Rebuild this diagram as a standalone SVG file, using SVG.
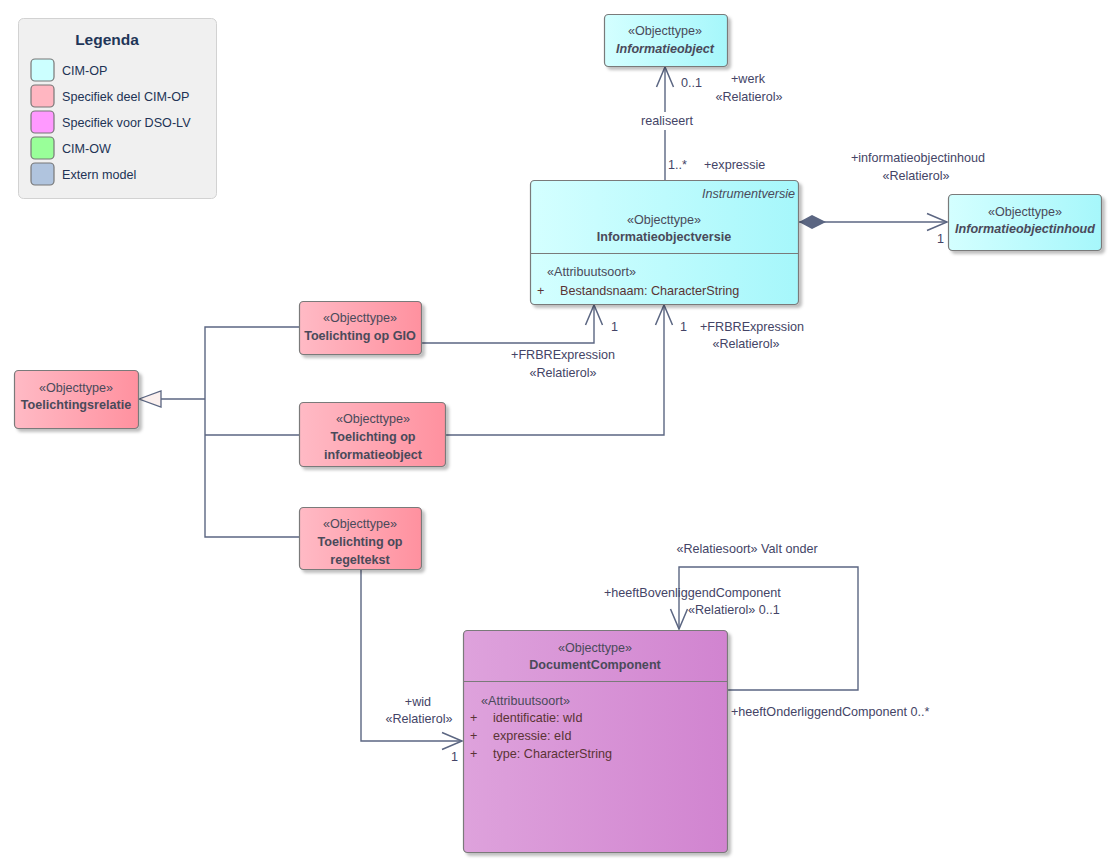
<svg xmlns="http://www.w3.org/2000/svg" width="1118" height="867" viewBox="0 0 1118 867">
<defs>
<linearGradient id="gCyan" x1="0" y1="0" x2="1" y2="0"><stop offset="0" stop-color="#d4ffff"/><stop offset="1" stop-color="#a6f7fb"/></linearGradient>
<linearGradient id="gPink" x1="0" y1="0" x2="1" y2="0"><stop offset="0" stop-color="#ffbac5"/><stop offset="1" stop-color="#ff919f"/></linearGradient>
<linearGradient id="gPurple" x1="0" y1="0" x2="1" y2="0"><stop offset="0" stop-color="#dea2dc"/><stop offset="1" stop-color="#d184d0"/></linearGradient>
<filter id="sh" x="-10%" y="-10%" width="130%" height="130%"><feDropShadow dx="3" dy="3" stdDeviation="1.5" flood-color="#000" flood-opacity="0.25"/></filter>
<marker id="open" markerUnits="userSpaceOnUse" markerWidth="24" markerHeight="20" refX="21" refY="10" orient="auto"><path d="M1 1.5 L21 10 L1 18.5" fill="none" stroke="#5b6682" stroke-width="1.5"/></marker>
<marker id="diamond" markerUnits="userSpaceOnUse" markerWidth="30" markerHeight="16" refX="1" refY="8" orient="auto"><path d="M1 8 L14 1 L28 8 L14 15 Z" fill="#5b6682"/></marker>
<marker id="gen" markerUnits="userSpaceOnUse" markerWidth="26" markerHeight="20" refX="1" refY="10" orient="auto"><path d="M1 10 L23 2 L23 18 Z" fill="#fbf0ee" stroke="#5b6682" stroke-width="1.3"/></marker>
</defs>
<style>
text{font-family:"Liberation Sans",Arial,sans-serif;font-size:12.6px;fill:#3e3e52}
.st{fill:#4a4a5a}
.nm{font-weight:bold;fill:#4a4a5a}
.it{font-style:italic}
.at{fill:#5a3434}
.lbl{fill:#444466}
.c{text-anchor:middle}
.node{stroke:#7a7a7a;stroke-width:1.2}
.cyan{fill:url(#gCyan)}
.pink{fill:url(#gPink)}
.purple{fill:url(#gPurple)}
.conn{fill:none;stroke:#5b6682;stroke-width:1.4}
.sw{stroke:#777;stroke-width:1.2}
.leg{fill:#223355}
</style>
<rect width="1118" height="867" fill="#fff"/>

<g id="legend">
<rect x="18.5" y="18.5" width="198" height="180" rx="5" fill="#f0f0f0" stroke="#d2d2d2"/>
<text x="107" y="45" class="c" style="font-size:15.5px;font-weight:bold;fill:#1f3658">Legenda</text>
<rect x="31" y="59" width="23" height="22" rx="4" fill="#ccffff" class="sw"/>
<text x="62" y="75" class="leg">CIM-OP</text>
<rect x="31" y="85" width="23" height="22" rx="4" fill="#ffb6c1" class="sw"/>
<text x="62" y="101" class="leg">Specifiek deel CIM-OP</text>
<rect x="31" y="111" width="23" height="22" rx="4" fill="#ff99ff" class="sw"/>
<text x="62" y="127" class="leg">Specifiek voor DSO-LV</text>
<rect x="31" y="137" width="23" height="22" rx="4" fill="#99ff99" class="sw"/>
<text x="62" y="153" class="leg">CIM-OW</text>
<rect x="31" y="163" width="23" height="22" rx="4" fill="#b0c4de" class="sw"/>
<text x="62" y="179" class="leg">Extern model</text>
</g>

<g id="connectors">
<path class="conn" d="M665 180 L665 130 M665 112 L665 67" marker-end="url(#open)"/>
<text x="667" y="125" class="c lbl">realiseert</text>
<text x="681" y="87" class="lbl">0..1</text>
<text x="748" y="83" class="c lbl">+werk</text>
<text x="749" y="101" class="c lbl">«Relatierol»</text>
<text x="668" y="169" class="lbl">1..*</text>
<text x="704" y="169" class="lbl">+expressie</text>

<path class="conn" d="M799 222 L947 222" marker-start="url(#diamond)" marker-end="url(#open)"/>
<text x="918" y="162" class="c lbl">+informatieobjectinhoud</text>
<text x="916" y="180" class="c lbl">«Relatierol»</text>
<text x="937" y="243" class="lbl">1</text>

<path class="conn" d="M205 399 L161 399"/>
<path d="M139 399 L161 391 L161 407 Z" fill="#fbf0ee" stroke="#5b6682" stroke-width="1.3"/>
<path class="conn" d="M299 327 L205 327 L205 537 L299 537 M205 435 L299 435"/>

<path class="conn" d="M421 343 L594 343 L594 305" marker-end="url(#open)"/>
<text x="611" y="331" class="lbl">1</text>
<text x="563" y="359" class="c lbl">+FRBRExpression</text>
<text x="563" y="377" class="c lbl">«Relatierol»</text>

<path class="conn" d="M445 435 L664 435 L664 305" marker-end="url(#open)"/>
<text x="680" y="331" class="lbl">1</text>
<text x="700" y="331" class="lbl">+FRBRExpression</text>
<text x="746" y="348" class="c lbl">«Relatierol»</text>

<path class="conn" d="M361 569 L361 741 L462 741" marker-end="url(#open)"/>
<text x="418" y="706" class="c lbl">+wid</text>
<text x="419" y="723" class="c lbl">«Relatierol»</text>
<text x="451" y="761" class="lbl">1</text>

<path class="conn" d="M727 690 L858 690 L858 567 L679 567 L679 629" marker-end="url(#open)"/>
<text x="747" y="553" class="c lbl">«Relatiesoort» Valt onder</text>
<text x="604" y="597" class="lbl">+heeftBovenliggendComponent</text>
<text x="688" y="614" class="lbl">«Relatierol» 0..1</text>
<text x="731" y="716" class="lbl">+heeftOnderliggendComponent 0..*</text>
</g>

<g id="n-informatieobject">
<rect x="604.5" y="14.5" width="123" height="52" rx="4" class="node cyan" filter="url(#sh)"/>
<text x="665" y="35" class="c st">«Objecttype»</text>
<text x="665" y="53" class="c nm it">Informatieobject</text>
</g>

<g id="n-informatieobjectversie">
<rect x="530.5" y="180.5" width="268" height="124" rx="4" class="node cyan" filter="url(#sh)"/>
<line x1="530.5" y1="253.5" x2="798.5" y2="253.5" stroke="#7a7a7a" stroke-width="1.2"/>
<text x="795" y="198" class="st it" text-anchor="end">Instrumentversie</text>
<text x="664" y="224" class="c st">«Objecttype»</text>
<text x="664" y="241" class="c nm">Informatieobjectversie</text>
<text x="547" y="276" class="st">«Attribuutsoort»</text>
<text x="537" y="295" class="at">+</text>
<text x="560" y="295" class="at">Bestandsnaam: CharacterString</text>
</g>

<g id="n-informatieobjectinhoud">
<rect x="948.5" y="194.5" width="153" height="56" rx="4" class="node cyan" filter="url(#sh)"/>
<text x="1025" y="216" class="c st">«Objecttype»</text>
<text x="1025" y="233" class="c nm it">Informatieobjectinhoud</text>
</g>

<g id="n-toelichtingsrelatie">
<rect x="14.5" y="370.5" width="124" height="58" rx="4" class="node pink" filter="url(#sh)"/>
<text x="76" y="392" class="c st">«Objecttype»</text>
<text x="76" y="409" class="c nm">Toelichtingsrelatie</text>
</g>

<g id="n-toelichting-gio">
<rect x="299.5" y="301.5" width="122" height="53" rx="4" class="node pink" filter="url(#sh)"/>
<text x="360" y="322" class="c st">«Objecttype»</text>
<text x="360" y="340" class="c nm">Toelichting op GIO</text>
</g>

<g id="n-toelichting-io">
<rect x="299.5" y="402.5" width="146" height="64" rx="4" class="node pink" filter="url(#sh)"/>
<text x="373" y="423" class="c st">«Objecttype»</text>
<text x="373" y="441" class="c nm">Toelichting op</text>
<text x="373" y="459" class="c nm">informatieobject</text>
</g>

<g id="n-toelichting-regeltekst">
<rect x="299.5" y="507.5" width="122" height="62" rx="4" class="node pink" filter="url(#sh)"/>
<text x="360" y="528" class="c st">«Objecttype»</text>
<text x="360" y="546" class="c nm">Toelichting op</text>
<text x="360" y="564" class="c nm">regeltekst</text>
</g>

<g id="n-documentcomponent">
<rect x="463.5" y="630.5" width="264" height="222" rx="4" class="node purple" filter="url(#sh)"/>
<line x1="463.5" y1="681.5" x2="727.5" y2="681.5" stroke="#7a7a7a" stroke-width="1.2"/>
<text x="595" y="652" class="c st">«Objecttype»</text>
<text x="595" y="669" class="c nm">DocumentComponent</text>
<text x="481" y="705" class="st">«Attribuutsoort»</text>
<text x="470" y="722" class="at">+</text>
<text x="493" y="722" class="at">identificatie: wId</text>
<text x="470" y="740" class="at">+</text>
<text x="493" y="740" class="at">expressie: eId</text>
<text x="470" y="758" class="at">+</text>
<text x="493" y="758" class="at">type: CharacterString</text>
</g>
</svg>
